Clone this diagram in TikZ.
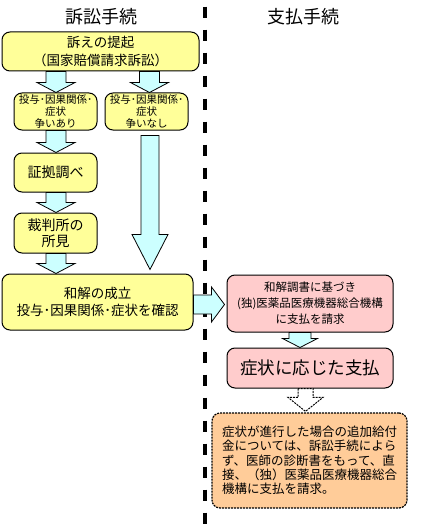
\documentclass[tikz,border=0pt]{standalone}
\usepackage{fontspec}
\setmainfont{Noto Sans CJK JP}
\usetikzlibrary{calc}
\definecolor{boxyellow}{RGB}{255,255,153}
\definecolor{boxpink}{RGB}{255,204,204}
\definecolor{boxorange}{RGB}{255,204,153}
\definecolor{arrowcyan}{RGB}{204,255,255}
% down block arrow: [style]{x}{start}{end}{shaft half}{head half}{head length}
\newcommand{\dnarrow}[7][blockarrow]{%
  \draw[#1] let \p1=(#3), \p2=(#4), \p3=(#2,0) in
    (\x3-#5pt,\y1) -- (\x3-#5pt,\y2+#7pt) -- (\x3-#6pt,\y2+#7pt) -- (\x3,\y2)
    -- (\x3+#6pt,\y2+#7pt) -- (\x3+#5pt,\y2+#7pt) -- (\x3+#5pt,\y1) -- cycle;}
% right block arrow: {start}{end}{y}{shaft half}{head half}{head length}
\newcommand{\rtarrow}[6]{%
  \draw[blockarrow] let \p1=(#1), \p2=(#2), \p3=(0,#3) in
    (\x1,\y3+#4pt) -- (\x2-#6pt,\y3+#4pt) -- (\x2-#6pt,\y3+#5pt) -- (\x2,\y3)
    -- (\x2-#6pt,\y3-#5pt) -- (\x2-#6pt,\y3-#4pt) -- (\x1,\y3-#4pt) -- cycle;}
\begin{document}
\begin{tikzpicture}[x=1pt,y=-1pt,
  box/.style={draw=black, line width=1pt, rounded corners=8pt, align=center, inner sep=0pt},
  ybox/.style={box, fill=boxyellow},
  pbox/.style={box, fill=boxpink},
  obox/.style={box, fill=boxorange, dash pattern=on 2pt off 1pt, line width=1.2pt},
  blockarrow/.style={draw=black, line width=0.8pt, fill=arrowcyan, line join=miter},
  whitearrow/.style={draw=black, line width=1pt, fill=white, dash pattern=on 2pt off 1pt},
  divider/.style={line width=4pt, dash pattern=on 11.5pt off 11.5pt},
  title/.style={font=\fontsize{18}{20}\selectfont},
]
\useasboundingbox (0,0) rectangle (426,524);

\node[title] (t1) at (101,17) {訴訟手続};
\node[title] (t2) at (303,17) {支払手続};

\coordinate (dtop) at (205,6.7);
\coordinate (dbot) at (205,524);
\draw[divider] (dtop) -- (dbot);

\node[ybox, minimum width=197pt, minimum height=39pt, font=\fontsize{13.5}{18.3}\selectfont] (b1) at (100.5,51.5) {訴えの提起\\（国家賠償請求訴訟）};
\node[ybox, minimum width=83pt, minimum height=37pt, font=\fontsize{10.5}{12}\selectfont] (b2a) at (55.5,111.5) {投与･因果関係･\\症状\\争いあり};
\node[ybox, minimum width=83pt, minimum height=37pt, font=\fontsize{10.5}{12}\selectfont] (b2b) at (146.5,111.5) {投与･因果関係･\\症状\\争いなし};
\node[ybox, minimum width=83pt, minimum height=39pt, font=\fontsize{14}{16}\selectfont] (b3) at (55.5,172.5) {証拠調べ};
\node[ybox, minimum width=83pt, minimum height=40pt, font=\fontsize{14}{16}\selectfont] (b4) at (55.5,233) {裁判所の\\所見};
\node[ybox, minimum width=191pt, minimum height=56pt, font=\fontsize{13.5}{17}\selectfont] (b5) at (97.5,302) {和解の成立\\投与･因果関係･症状を確認};

\node[pbox, minimum width=166pt, minimum height=57pt, font=\fontsize{11.5}{16}\selectfont] (b6) at (310,303.5) {和解調書に基づき\\(独)医薬品医療機器総合機構\\に支払を請求};
\node[pbox, minimum width=166pt, minimum height=40pt, font=\fontsize{17.5}{20}\selectfont] (b7) at (310,368) {症状に応じた支払};
\node[obox, minimum width=195pt, minimum height=95pt, align=left, font=\fontsize{12.5}{14.3}\selectfont] (b8) at (309.5,460.5) {症状が進行した場合の追加給付\\金については、訴訟手続によら\\ず、医師の診断書をもって、直\\接、（独）医薬品医療機器総合\\機構に支払を請求。};

\dnarrow{56}{b1.south}{b2a.north}{10}{19}{10}
\dnarrow{149.5}{b1.south}{b2b.north}{10}{19}{10}
\dnarrow{56}{b2a.south}{b3.north}{10}{19}{10}
\dnarrow{56}{b3.south}{b4.north}{10}{19}{10}
\dnarrow{56}{b4.south}{b5.north}{10}{19}{10}
\dnarrow{150}{$(b2b.south)+(0,5)$}{$(b5.north)+(0,-4)$}{9}{18}{35}
\rtarrow{b5.east}{$(b6.west)+(-2,0)$}{304.5}{9.5}{17.5}{13}
\dnarrow{300}{b6.south}{b7.north}{11}{17.5}{9}
\dnarrow[whitearrow]{305.5}{b7.south}{$(b8.north)+(0,-1)$}{7.5}{17.5}{14}
\end{tikzpicture}
\end{document}
